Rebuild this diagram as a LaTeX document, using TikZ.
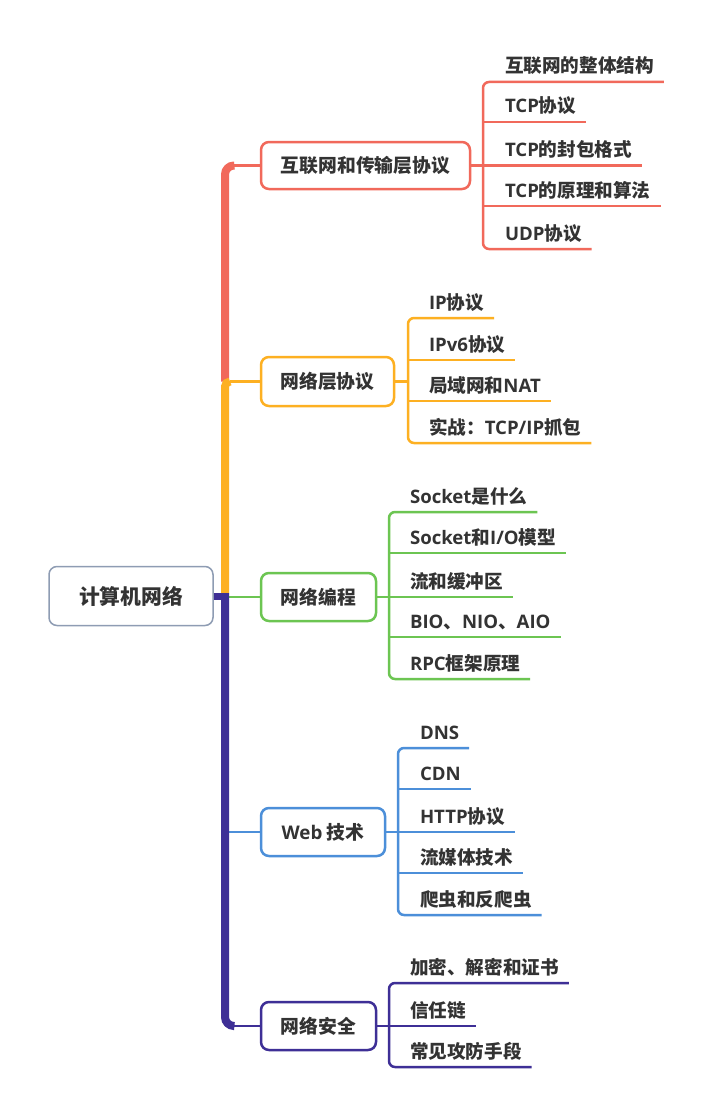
\documentclass[tikz,border=0pt]{standalone}
\usepackage{fontspec}
\setmainfont{Noto Sans CJK SC}
\newfontfamily\lf{Open Sans}
\usetikzlibrary{calc}
\definecolor{cred}{HTML}{F1695B}
\definecolor{corange}{HTML}{FDB022}
\definecolor{cgreen}{HTML}{6CC552}
\definecolor{cblue}{HTML}{4C8FD9}
\definecolor{cpurple}{HTML}{3E2F96}
\definecolor{crootb}{HTML}{8E9CB3}
\definecolor{txt}{HTML}{333333}
\begin{document}
\begin{tikzpicture}[x=1pt,y=-1pt,
  rootbox/.style={draw=crootb, line width=1.5pt, rounded corners=8pt, fill=white, text=txt,
    font=\bfseries\fontsize{20.8}{22}\selectfont, inner sep=0pt, minimum width=164pt, minimum height=59pt},
  box/.style={line width=2.5pt, rounded corners=8pt, fill=white, text=txt,
    font=\bfseries\fontsize{18.8}{20}\selectfont, inner sep=0pt, outer sep=0pt},
  child/.style={anchor=base west, inner sep=0pt, outer sep=0pt, text=txt,
    font=\bfseries\fontsize{18.6}{20}\selectfont},
  conn/.style={line width=2.5pt},
  trunk/.style={line width=8pt}]
\useasboundingbox[fill=white] (0,0) rectangle (717,1097);

% ---------- nodes ----------
\node[rootbox] (root) at (131,596) {计算机网络};
\node[box, draw=cred, minimum width=209pt, minimum height=47pt] (b1) at (365.5,165.5) {互联网和传输层协议};
\node[box, draw=corange, minimum width=133pt, minimum height=49pt] (b2) at (327.5,381.5) {网络层协议};
\node[box, draw=cgreen, minimum width=115pt, minimum height=48pt] (b3) at (318.5,597) {网络编程};
\node[box, draw=cblue, minimum width=124pt, minimum height=48pt] (b4) at (323,832) {{\lf Web} 技术};
\node[box, draw=cpurple, minimum width=115pt, minimum height=48pt] (b5) at (318.5,1026) {网络安全};

% branch 1 children
\node[child] (c11) at (505,73) {互联网的整体结构};
\node[child] (c12) at (505,113) {{\lf TCP}协议};
\node[child] (c13) at (505,156.5) {{\lf TCP}的封包格式};
\node[child] (c14) at (505,197) {{\lf TCP}的原理和算法};
\node[child] (c15) at (505,240) {{\lf UDP}协议};
% branch 2 children
\node[child] (c21) at (429,309) {{\lf IP}协议};
\node[child] (c22) at (429,351) {{\lf IPv6}协议};
\node[child] (c23) at (429,392) {局域网和{\lf NAT}};
\node[child] (c24) at (429,434) {实战：{\lf TCP/IP}抓包};
% branch 3 children
\node[child] (c31) at (410,503) {{\lf Socket}是什么};
\node[child] (c32) at (410,544) {{\lf Socket}和{\lf I/O}模型};
\node[child] (c33) at (410,588) {流和缓冲区};
\node[child] (c34) at (410,628) {{\lf BIO}、{\lf NIO}、{\lf AIO}};
\node[child] (c35) at (410,670) {{\lf RPC}框架原理};
% branch 4 children
\node[child] (c41) at (420,739) {{\lf DNS}};
\node[child] (c42) at (420,780) {{\lf CDN}};
\node[child] (c43) at (420,823) {{\lf HTTP}协议};
\node[child] (c44) at (420,864) {流媒体技术};
\node[child] (c45) at (420,906) {爬虫和反爬虫};
% branch 5 children
\node[child] (c51) at (410,974) {加密、解密和证书};
\node[child] (c52) at (410,1017) {信任链};
\node[child] (c53) at (410,1058) {常见攻防手段};

% ---------- bracket coordinates ----------
\coordinate (k1) at (483,165.5);
\coordinate (k2) at (408,381.5);
\coordinate (k3) at (389,597);
\coordinate (k4) at (398,832);
\coordinate (k5) at (389,1026);

% ---------- branch 1 ----------
\begin{scope}[cred, conn]
\draw (b1.east) -- (k1);
\draw[rounded corners=6pt] ($(c11.base east)+(10,9)$) -- ($(k1|-c11.base)+(0,9)$) -- ($(k1|-c15.base)+(0,9)$) -- ($(c15.base east)+(10,9)$);
\draw ($(k1|-c12.base)+(0,9)$) -- ($(c12.base east)+(10,9)$);
\draw ($(k1|-c13.base)+(0,9)$) -- ($(c13.base east)+(10,9)$);
\draw ($(k1|-c14.base)+(0,9)$) -- ($(c14.base east)+(10,9)$);
\end{scope}
% ---------- branch 2 ----------
\begin{scope}[corange, conn]
\draw (b2.east) -- (k2);
\draw[rounded corners=6pt] ($(c21.base east)+(10,9)$) -- ($(k2|-c21.base)+(0,9)$) -- ($(k2|-c24.base)+(0,9)$) -- ($(c24.base east)+(10,9)$);
\draw ($(k2|-c22.base)+(0,9)$) -- ($(c22.base east)+(10,9)$);
\draw ($(k2|-c23.base)+(0,9)$) -- ($(c23.base east)+(10,9)$);
\end{scope}
% ---------- branch 3 ----------
\begin{scope}[cgreen, conn]
\draw (b3.east) -- (k3);
\draw[rounded corners=6pt] ($(c31.base east)+(10,9)$) -- ($(k3|-c31.base)+(0,9)$) -- ($(k3|-c35.base)+(0,9)$) -- ($(c35.base east)+(10,9)$);
\draw ($(k3|-c32.base)+(0,9)$) -- ($(c32.base east)+(10,9)$);
\draw ($(k3|-c33.base)+(0,9)$) -- ($(c33.base east)+(10,9)$);
\draw ($(k3|-c34.base)+(0,9)$) -- ($(c34.base east)+(10,9)$);
\end{scope}
% ---------- branch 4 ----------
\begin{scope}[cblue, conn]
\draw (b4.east) -- (k4);
\draw[rounded corners=6pt] ($(c41.base east)+(10,9)$) -- ($(k4|-c41.base)+(0,9)$) -- ($(k4|-c45.base)+(0,9)$) -- ($(c45.base east)+(10,9)$);
\draw ($(k4|-c42.base)+(0,9)$) -- ($(c42.base east)+(10,9)$);
\draw ($(k4|-c43.base)+(0,9)$) -- ($(c43.base east)+(10,9)$);
\draw ($(k4|-c44.base)+(0,9)$) -- ($(c44.base east)+(10,9)$);
\end{scope}
% ---------- branch 5 ----------
\begin{scope}[cpurple, conn]
\draw (b5.east) -- (k5);
\draw[rounded corners=6pt] ($(c51.base east)+(10,9)$) -- ($(k5|-c51.base)+(0,9)$) -- ($(k5|-c53.base)+(0,9)$) -- ($(c53.base east)+(10,9)$);
\draw ($(k5|-c52.base)+(0,9)$) -- ($(c52.base east)+(10,9)$);
\end{scope}

% ---------- trunk ----------
\coordinate (t1) at (225,165.5);
\coordinate (t2) at (225,381.5);
\coordinate (t3) at (225,593);
\coordinate (t4) at (225,832);
\coordinate (t5) at (225,1026);
\draw[conn, cred] (232,165.5) -- (b1.west);
\draw[conn, corange] (230,381.5) -- (b2.west);
\draw[conn, cgreen] (228,597) -- (b3.west);
\draw[conn, cblue] (t4) -- (b4.west);
\draw[conn, cpurple] (232,1026) -- (b5.west);
\draw[trunk, cred, rounded corners=9pt] (t2) -- (t1) -- (233,165.5);
\draw[trunk, corange, rounded corners=5pt] (t3) -- (t2) -- (230,381.5);
\draw[trunk, cpurple, rounded corners=9pt] (t3) -- (t5) -- (233,1026);
\draw[line width=7pt, cpurple] (root.east) -- (228,596);
\end{tikzpicture}
\end{document}
